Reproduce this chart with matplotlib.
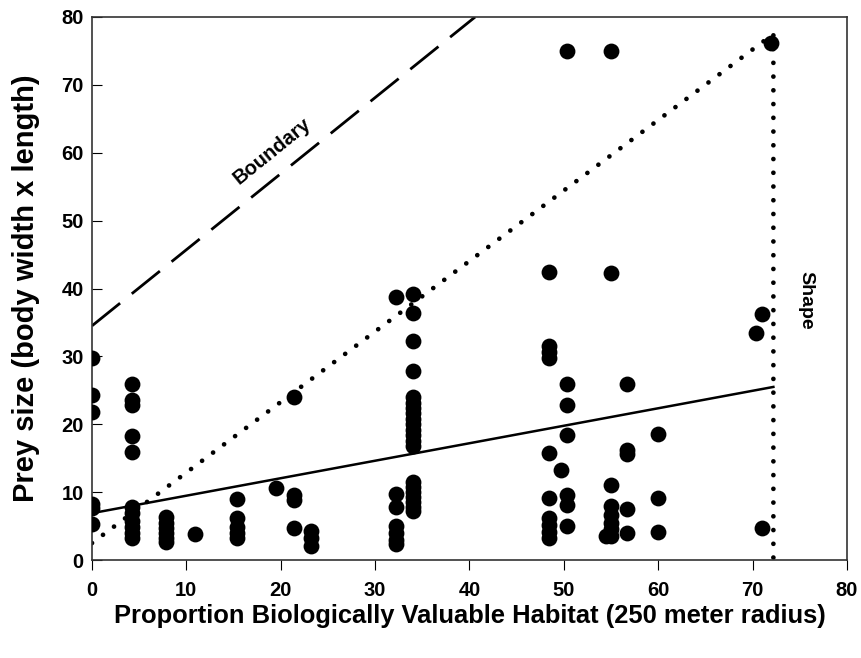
import matplotlib.pyplot as plt

plt.rcParams['font.family'] = ['Liberation Sans', 'DejaVu Sans']
plt.rcParams['font.weight'] = 'bold'

# habitat proportion for each column of observations, and the prey sizes in it
col_x = [0, 4.2, 7.8, 10.9, 15.4, 19.5, 21.4, 23.2, 32.2, 34.0,
         48.4, 49.7, 50.3, 54.5, 55.0, 56.7, 60.0, 70.4, 71.0, 72.0]
col_y = [
    [29.8, 24.3, 21.8, 8.3, 7.6, 5.3],
    [25.9, 23.6, 22.8, 18.3, 15.9, 7.8, 6.9, 5.8, 4.8, 4.0, 3.2],
    [6.3, 5.5, 4.7, 4.0, 3.3, 2.7],
    [3.9],
    [9.0, 6.2, 4.8, 4.0, 3.3],
    [10.6],
    [24.0, 9.6, 8.8, 4.7],
    [4.3, 3.2, 2.1],
    [38.7, 9.8, 7.8, 5.0, 4.0, 3.0, 2.3],
    [39.2, 36.4, 32.3, 27.8, 24.0, 23.2, 22.4, 21.6, 20.8, 20.0, 19.2, 18.4, 17.6, 16.8,
     11.5, 10.8, 10.0, 9.3, 8.5, 7.8, 7.2],
    [42.4, 31.6, 30.7, 29.7, 15.7, 9.1, 6.2, 5.2, 4.2, 3.2],
    [13.2],
    [75.0, 25.9, 22.8, 18.4, 9.6, 8.1, 5.0],
    [3.5],
    [75.0, 42.3, 11.0, 8.0, 6.7, 5.5, 4.5, 3.5],
    [25.9, 16.2, 15.6, 7.5, 4.0],
    [18.5, 9.1, 4.1],
    [33.4],
    [36.3, 4.7],
    [76.1],
]

# fitted line, shape outline and boundary
fit_x = [0, 72.2]
fit_y = [6.9, 25.5]
shape_x = [0, 72.2, 72.2]
shape_y = [2.5, 77.5, 0]
bound_x = [0, 40.6]
bound_y = [34.5, 80]

x_vals = []
y_vals = []
for cx, ys in zip(col_x, col_y):
    x_vals += [cx] * len(ys)
    y_vals += ys

fig = plt.figure(figsize=(8.62, 6.58), dpi=100)
ax = fig.add_axes([0.1067, 0.1489, 0.8759, 0.8253])

ax.scatter(x_vals, y_vals, s=130, color='black', zorder=3, linewidths=0)
ax.plot(fit_x, fit_y, color='black', lw=1.8)
ax.plot(shape_x, shape_y, color='black', lw=3.4, linestyle=(0, (0.01, 2.9)),
        dash_capstyle='round', solid_capstyle='round')
ax.plot(bound_x, bound_y, color='black', lw=2, linestyle=(0, (13, 5.4)))

ax.text(19.1, 60.3, 'Boundary', rotation=39, ha='center', va='center',
        fontsize=14.5, fontweight='bold')
ax.text(75.6, 38.3, 'Shape', rotation=-90, ha='center', va='center',
        fontsize=14, fontweight='bold')

ax.set_xlim(0, 80)
ax.set_ylim(0, 80)
ax.set_xticks(range(0, 81, 10))
ax.set_yticks(range(0, 81, 10))
ax.tick_params(axis='x', direction='out', length=7, labelsize=14.5, pad=8)
ax.tick_params(axis='y', direction='in', length=7, labelsize=14.5, pad=6)
for lab in ax.get_xticklabels() + ax.get_yticklabels():
    lab.set_fontweight('bold')
for sp in ax.spines.values():
    sp.set_linewidth(1.2)
    sp.set_color('#333333')

ax.set_xlabel('Proportion Biologically Valuable Habitat (250 meter radius)',
              fontsize=18.4, fontweight='bold', labelpad=3)
ax.set_ylabel('Prey size (body width x length)', fontsize=21, fontweight='bold', labelpad=15)

fig.savefig('out.png', dpi=100)
